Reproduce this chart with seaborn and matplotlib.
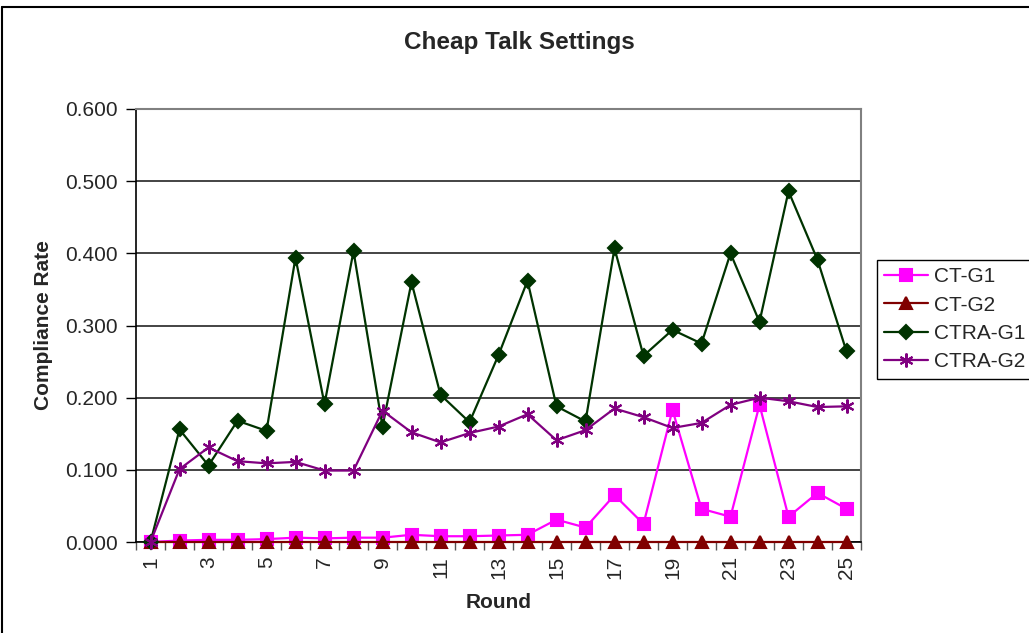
import matplotlib
matplotlib.use("Agg")
import matplotlib.pyplot as plt
import seaborn as sns
import pandas as pd
import numpy as np
from matplotlib.lines import Line2D
from matplotlib.ticker import FixedLocator, MultipleLocator, FuncFormatter

rounds = list(range(1, 26))
ct_g1 = [0.000, 0.002, 0.003, 0.003, 0.004, 0.006, 0.005, 0.006, 0.006, 0.010,
         0.008, 0.008, 0.009, 0.010, 0.031, 0.020, 0.065, 0.025, 0.183, 0.046,
         0.035, 0.190, 0.035, 0.068, 0.046]
ct_g2 = [0.000] * 25
ctra_g1 = [0.000, 0.156, 0.106, 0.168, 0.154, 0.394, 0.191, 0.403, 0.160, 0.360,
           0.204, 0.166, 0.259, 0.362, 0.188, 0.167, 0.407, 0.258, 0.294, 0.275,
           0.400, 0.305, 0.486, 0.391, 0.264]
ctra_g2 = [0.000, 0.101, 0.131, 0.112, 0.109, 0.111, 0.099, 0.099, 0.182, 0.152,
           0.138, 0.151, 0.160, 0.177, 0.141, 0.155, 0.185, 0.173, 0.158, 0.165,
           0.190, 0.200, 0.195, 0.187, 0.188]
series_names = ["CT-G1", "CT-G2", "CTRA-G1", "CTRA-G2"]
y_ticks = [0.0, 0.1, 0.2, 0.3, 0.4, 0.5, 0.6]
x_tick_labels = [str(r) for r in rounds if r % 2 == 1]

sns.set_style("ticks")
plt.rcParams['font.family'] = ['Liberation Sans', 'DejaVu Sans']

fig = plt.figure(figsize=(10.29, 6.33), dpi=100)
ax = fig.add_axes([136/1029, 1 - 542/633, (861-136)/1029, (542-109)/633])

styles = {
    "CT-G1": dict(color="#FF00FF", marker="s", ms=8),
    "CT-G2": dict(color="#800000", marker="^", ms=8.5),
    "CTRA-G1": dict(color="#003300", marker="D", ms=7),
    "CTRA-G2": dict(color="#800080", marker=(6, 2, 0), ms=10),
}
data = {"CT-G1": ct_g1, "CT-G2": ct_g2, "CTRA-G1": ctra_g1, "CTRA-G2": ctra_g2}

for i, name in enumerate(series_names):
    st = styles[name]
    df = pd.DataFrame({"Round": rounds, "Rate": data[name]})
    sns.lineplot(data=df, x="Round", y="Rate", ax=ax, color=st["color"],
                 marker=st["marker"], markersize=st["ms"], markeredgecolor=st["color"],
                 markerfacecolor=st["color"], markeredgewidth=1.5, linewidth=1.6,
                 label=name, clip_on=False, zorder=3 + i)

ax.set_xlim(0.5, 25.5)
ax.set_ylim(0, 0.6)
ax.yaxis.set_major_locator(FixedLocator(y_ticks))
ax.yaxis.set_major_formatter(FuncFormatter(lambda v, p: f"{v:.3f}"))
ax.set_xticks([r for r in rounds if r % 2 == 1])
ax.set_xticklabels(x_tick_labels, rotation=90)
ax.xaxis.set_minor_locator(FixedLocator(np.arange(0.5, 26, 1.0)))
ax.tick_params(axis="x", which="major", length=0, pad=10, labelsize=15)
ax.tick_params(axis="x", which="minor", length=6, width=1, color="#555555", direction="out")
ax.tick_params(axis="y", which="major", length=7, width=1, color="black", labelsize=15, pad=6)

ax.grid(axis="y", color="#111111", linewidth=1.1)
ax.set_axisbelow(True)
for s in ["left", "bottom"]:
    ax.spines[s].set_color("black")
    ax.spines[s].set_linewidth(1.2)
for s in ["top", "right"]:
    ax.spines[s].set_visible(True)
    ax.spines[s].set_color("#808080")
    ax.spines[s].set_linewidth(1.5)

ax.set_xlabel("Round", fontsize=15, fontweight="bold", labelpad=10)
ax.set_ylabel("Compliance Rate", fontsize=15, fontweight="bold", labelpad=9)
fig.text(0.505, 1 - 42/633, "Cheap Talk Settings", fontsize=17.5, fontweight="bold",
         ha="center", va="center")

handles, labels = ax.get_legend_handles_labels()
leg = ax.legend(handles, labels, loc="upper left", bbox_to_anchor=(877/1029, 1 - 260/633),
                bbox_transform=fig.transFigure, borderaxespad=0, fontsize=15,
                frameon=True, fancybox=False, edgecolor="black", framealpha=1,
                handlelength=2.1, handletextpad=0.3, labelspacing=0.45,
                borderpad=0.35)
leg.get_frame().set_linewidth(1)

# outer chart border (left and top)
fig.add_artist(Line2D([1.5/1029, 1.5/1029], [0, 1 - 6.5/633], transform=fig.transFigure,
                      color="black", linewidth=1.5))
fig.add_artist(Line2D([1.5/1029, 1], [1 - 6.5/633, 1 - 6.5/633], transform=fig.transFigure,
                      color="black", linewidth=1.5))

fig.savefig("out.png", dpi=100)
